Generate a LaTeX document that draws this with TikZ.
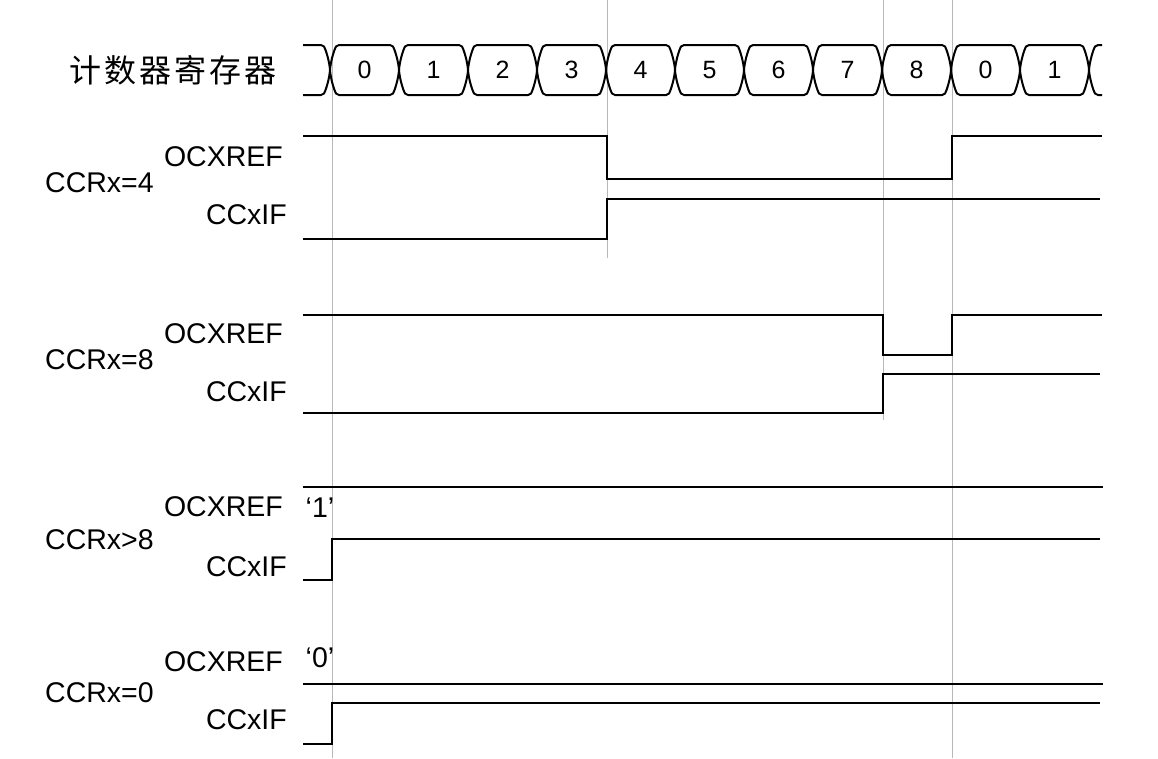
\documentclass[tikz,border=0pt]{standalone}
\usepackage{fontspec}
\setmainfont{Liberation Sans}
\newfontfamily\cjk[LetterSpace=10]{Noto Sans CJK SC}
\begin{document}
\begin{tikzpicture}[x=1pt,y=-1pt,
  sig/.style={line width=2.4pt, line cap=butt, line join=miter},
  gridline/.style={draw=black!28, line width=1pt},
  bus/.style={line width=2pt, line join=round},
  lab/.style={font=\fontsize{28.5}{32}\selectfont, inner sep=0pt},
  num/.style={font=\fontsize{25}{28}\selectfont, inner sep=0pt},
  title/.style={font=\cjk\fontsize{32}{36}\selectfont, inner sep=0pt}]
\fill[white] (0,0) rectangle (1158,758);
\useasboundingbox (0,0) rectangle (1158,758);
% grid lines
\draw[gridline] (332,0) -- (332,758);
\draw[gridline] (607,0) -- (607,258);
\draw[gridline] (883,0) -- (883,420);
\draw[gridline] (952,0) -- (952,758);
% title
\node[title] (t) at (173,70) {计数器寄存器};
% bus
\draw[bus] (303,45) -- (321,45) .. controls (322.5,45) and (323.2,45.2) .. (324,46.5)
  .. controls (326,50) and (329.5,62) .. (330,70)
  .. controls (329.5,78) and (326,90) .. (324,93.5)
  .. controls (323.2,94.8) and (322.5,95) .. (321,95) -- (303,95);
\draw[bus] (1102,45) -- (1098,45) .. controls (1096.5,45) and (1095.8,45.2) .. (1095,46.5)
  .. controls (1093,50) and (1089.5,62) .. (1089,70)
  .. controls (1089.5,78) and (1093,90) .. (1095,93.5)
  .. controls (1095.8,94.8) and (1096.5,95) .. (1098,95) -- (1102,95);
\foreach \k/\v in {0/0,1/1,2/2,3/3,4/4,5/5,6/6,7/7,8/8,9/0,10/1} {
  \pgfmathsetmacro\c{330+69*\k}
  \pgfmathsetmacro\d{\c+69}
  \draw[bus] (\c,70) .. controls (\c+0.5,62) and (\c+4,50) .. (\c+6,46.5)
    .. controls (\c+6.8,45.2) and (\c+7.5,45) .. (\c+9,45) -- (\d-9,45)
    .. controls (\d-7.5,45) and (\d-6.8,45.2) .. (\d-6,46.5)
    .. controls (\d-4,50) and (\d-0.5,62) .. (\d,70)
    .. controls (\d-0.5,78) and (\d-4,90) .. (\d-6,93.5)
    .. controls (\d-6.8,94.8) and (\d-7.5,95) .. (\d-9,95) -- (\c+9,95)
    .. controls (\c+7.5,95) and (\c+6.8,94.8) .. (\c+6,93.5)
    .. controls (\c+4,90) and (\c+0.5,78) .. cycle;
  \node[num] (n\k) at ({\c+34.5},70) {\v};
}
% CCRx=4
\node[lab, anchor=west] (c4) at (45,183) {CCRx=4};
\node[lab, anchor=east] (o4) at (283,157) {OCXREF};
\node[lab, anchor=east] (f4) at (287,215) {CCxIF};
\draw[sig] (303,136) -- (607,136) -- (607,179) -- (952,179) -- (952,136) -- (1102,136);
\draw[sig] (303,239) -- (607,239) -- (607,199) -- (1100,199);
% CCRx=8
\node[lab, anchor=west] (c8) at (45,360) {CCRx=8};
\node[lab, anchor=east] (o8) at (283,334) {OCXREF};
\node[lab, anchor=east] (f8) at (287,392) {CCxIF};
\draw[sig] (303,315) -- (883,315) -- (883,355) -- (952,355) -- (952,315) -- (1102,315);
\draw[sig] (303,413) -- (883,413) -- (883,374) -- (1100,374);
% CCRx>8
\node[lab, anchor=west] (cg) at (45,540) {CCRx>8};
\node[lab, anchor=east] (og) at (283,507) {OCXREF};
\node[lab, anchor=east] (fg) at (287,567) {CCxIF};
\node[lab] (q1) at (320,508) {‘1’};
\draw[sig] (303,487) -- (1103,487);
\draw[sig] (303,580) -- (332,580) -- (332,539) -- (1100,539);
% CCRx=0
\node[lab, anchor=west] (c0) at (45,693) {CCRx=0};
\node[lab, anchor=east] (o0) at (283,662) {OCXREF};
\node[lab, anchor=east] (f0) at (287,720) {CCxIF};
\node[lab] (q0) at (320,658) {‘0’};
\draw[sig] (303,684) -- (1103,684);
\draw[sig] (303,744) -- (332,744) -- (332,703) -- (1100,703);
\end{tikzpicture}
\end{document}
